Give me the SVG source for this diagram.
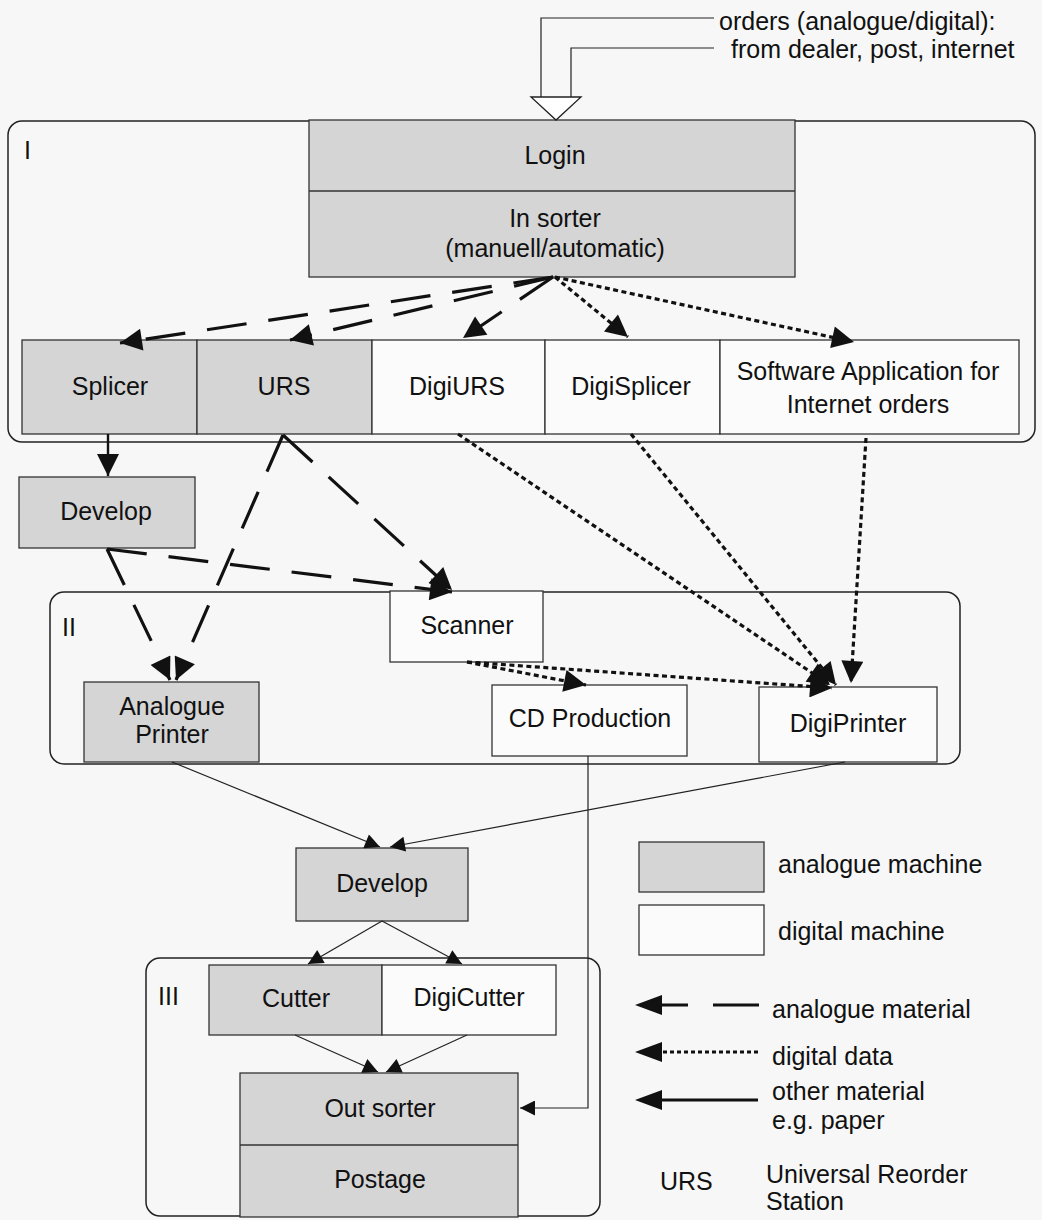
<svg xmlns="http://www.w3.org/2000/svg" width="1042" height="1220" viewBox="0 0 1042 1220">
<style>
text{font-family:"Liberation Sans",Arial,sans-serif;font-size:25px;fill:#111}
.c{text-anchor:middle}
.box{stroke:#333;stroke-width:1.3}
.an{fill:#d5d5d5}
.dg{fill:#fbfbfb}
.frame{fill:none;stroke:#222;stroke-width:1.5}
.ana{fill:none;stroke:#111;stroke-width:3.2;stroke-dasharray:40 22}
.dig{fill:none;stroke:#111;stroke-width:3.2;stroke-dasharray:5 3.5}
.thin{fill:none;stroke:#222;stroke-width:1.2}
.med{fill:none;stroke:#111;stroke-width:2.4}
</style>
<defs>
<marker id="big" viewBox="0 0 10 10" refX="10" refY="5" markerUnits="userSpaceOnUse" markerWidth="30" markerHeight="22" orient="auto"><path d="M0,0 L10,5 L0,10 z" fill="#111"/></marker>
<marker id="sm" viewBox="0 0 10 10" refX="10" refY="5" markerUnits="userSpaceOnUse" markerWidth="22" markerHeight="15" orient="auto"><path d="M0,0 L10,5 L0,10 z" fill="#111"/></marker>
</defs>
<rect width="1042" height="1220" fill="#f7f7f7"/>

<g id="frames">
<rect class="frame" x="8" y="121" width="1027" height="321" rx="14"/>
<text x="24" y="159">I</text>
<rect class="frame" x="50" y="592" width="910" height="172" rx="14"/>
<text x="62" y="636">II</text>
<rect class="frame" x="146" y="958" width="454" height="258" rx="14"/>
<text x="158" y="1005">III</text>
</g>

<g id="orders">
<text x="719" y="30">orders (analogue/digital):</text>
<text x="731" y="58">from dealer, post, internet</text>
</g>

<g id="login">
<rect class="box an" x="309" y="120" width="486" height="157"/>
<line class="box" x1="309" y1="191" x2="795" y2="191"/>
<text class="c" x="555" y="164">Login</text>
<text class="c" x="555" y="227">In sorter</text>
<text class="c" x="555" y="257">(manuell/automatic)</text>
</g>

<g id="splicer"><rect class="box an" x="22" y="340" width="175" height="94"/><text class="c" x="110" y="395">Splicer</text></g>
<g id="urs"><rect class="box an" x="197" y="340" width="175" height="94"/><text class="c" x="284" y="395">URS</text></g>
<g id="digiurs"><rect class="box dg" x="372" y="340" width="173" height="94"/><text class="c" x="457" y="395">DigiURS</text></g>
<g id="digisplicer"><rect class="box dg" x="545" y="340" width="175" height="94"/><text class="c" x="631" y="395">DigiSplicer</text></g>
<g id="software"><rect class="box dg" x="720" y="340" width="299" height="94"/><text class="c" x="868" y="380">Software Application for</text><text class="c" x="868" y="413">Internet orders</text></g>

<g id="develop1"><rect class="box an" x="19" y="477" width="176" height="71"/><text class="c" x="106" y="520">Develop</text></g>
<g id="scanner"><rect class="box dg" x="390" y="591" width="153" height="71"/><text class="c" x="467" y="634">Scanner</text></g>
<g id="analogueprinter"><rect class="box an" x="84" y="682" width="175" height="80"/><text class="c" x="172" y="715">Analogue</text><text class="c" x="172" y="743">Printer</text></g>
<g id="cdproduction"><rect class="box dg" x="492" y="685" width="195" height="71"/><text class="c" x="590" y="727">CD Production</text></g>
<g id="digiprinter"><rect class="box dg" x="759" y="687" width="178" height="75"/><text class="c" x="848" y="732">DigiPrinter</text></g>
<g id="develop2"><rect class="box an" x="296" y="848" width="172" height="73"/><text class="c" x="382" y="892">Develop</text></g>
<g id="cutter"><rect class="box an" x="209" y="965" width="173" height="70"/><text class="c" x="296" y="1007">Cutter</text></g>
<g id="digicutter"><rect class="box dg" x="382" y="965" width="174" height="70"/><text class="c" x="469" y="1006">DigiCutter</text></g>
<g id="outsorter">
<rect class="box an" x="240" y="1073" width="278" height="144"/>
<line class="box" x1="240" y1="1145" x2="518" y2="1145"/>
<text class="c" x="380" y="1117">Out sorter</text>
<text class="c" x="380" y="1188">Postage</text>
</g>

<g id="connectors">
<path d="M714,18 H541 V97 M714,48 H571 V97" class="thin" stroke-width="1.3"/>
<polygon points="531,97 581,97 556,120" fill="#fff" stroke="#222" stroke-width="1.3"/>

<path class="ana" d="M553,277 L120,343" marker-end="url(#big)"/>
<path class="ana" d="M553,277 L290,340" marker-end="url(#big)"/>
<path class="ana" d="M553,277 L463,338" marker-end="url(#big)"/>
<path class="ana" d="M283,435 L176,680" marker-end="url(#big)"/>
<path class="ana" d="M283,435 L452,590" marker-end="url(#big)"/>
<path class="ana" d="M107,549 L452,592" marker-end="url(#big)"/>
<path class="ana" d="M107,549 L170,680" marker-end="url(#big)"/>

<path class="dig" d="M555,277 L628,337" marker-end="url(#big)"/>
<path class="dig" d="M555,277 L854,342" marker-end="url(#big)"/>
<path class="dig" d="M458,434 L830,685" marker-end="url(#big)"/>
<path class="dig" d="M631,434 L836,685" marker-end="url(#big)"/>
<path class="dig" d="M866,438 L851,683" marker-end="url(#big)"/>
<path class="dig" d="M467,662 L586,685" marker-end="url(#big)"/>
<path class="dig" d="M467,662 L832,688" marker-end="url(#big)"/>

<path class="med" d="M108,434 V476" marker-end="url(#big)"/>
<path class="thin" d="M172,762 L380,847" marker-end="url(#sm)"/>
<path class="thin" d="M845,762 L390,847" marker-end="url(#sm)"/>
<path class="thin" d="M382,921 L308,964" marker-end="url(#sm)"/>
<path class="thin" d="M382,921 L462,964" marker-end="url(#sm)"/>
<path class="thin" d="M295,1035 L378,1072" marker-end="url(#sm)"/>
<path class="thin" d="M467,1035 L386,1072" marker-end="url(#sm)"/>
<path class="thin" d="M588,756 V1108 H520" marker-end="url(#sm)"/>
</g>

<g id="legend">
<rect class="box an" x="639" y="842" width="125" height="50"/>
<text x="778" y="873">analogue machine</text>
<rect class="box dg" x="639" y="905" width="125" height="50"/>
<text x="778" y="940">digital machine</text>
<path d="M759,1005 H713 M688,1005 H662" stroke="#111" stroke-width="3"/>
<path d="M662,995 L635,1005 L662,1015 z" fill="#111"/>
<text x="772" y="1018">analogue material</text>
<path d="M758,1052 H660" stroke="#111" stroke-width="3" stroke-dasharray="4 3"/>
<path d="M662,1042 L635,1052 L662,1062 z" fill="#111"/>
<text x="772" y="1065">digital data</text>
<path d="M758,1100 H660" stroke="#111" stroke-width="3"/>
<path d="M662,1090 L635,1100 L662,1110 z" fill="#111"/>
<text x="772" y="1100">other material</text>
<text x="772" y="1129">e.g. paper</text>
<text x="660" y="1190">URS</text>
<text x="766" y="1183">Universal Reorder</text>
<text x="766" y="1210">Station</text>
</g>
</svg>
